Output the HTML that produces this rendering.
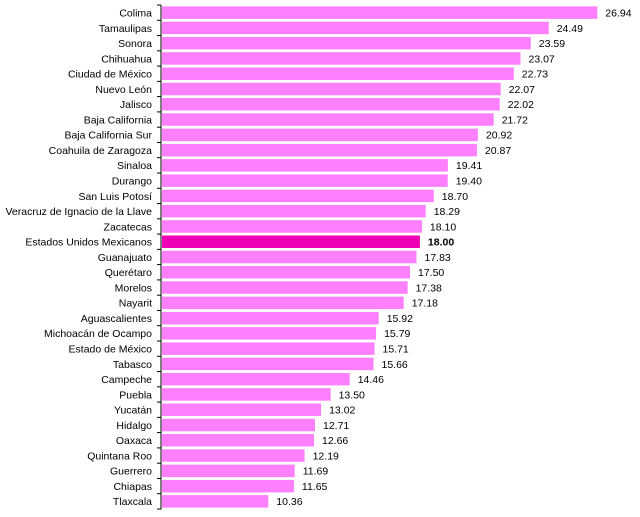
<!DOCTYPE html>
<html><head><meta charset="utf-8"><style>
html,body{margin:0;padding:0;background:#fff;width:640px;height:517px;overflow:hidden}
text{font-family:"Liberation Sans",Arial,sans-serif;font-size:10.5px;fill:#000}
</style></head><body>
<svg id="s" width="640" height="517" xmlns="http://www.w3.org/2000/svg"></svg>
<script>
var d=[["Colima",26.94],["Tamaulipas",24.49],["Sonora",23.59],["Chihuahua",23.07],["Ciudad de México",22.73],["Nuevo León",22.07],["Jalisco",22.02],["Baja California",21.72],["Baja California Sur",20.92],["Coahuila de Zaragoza",20.87],["Sinaloa",19.41],["Durango",19.40],["San Luis Potosí",18.70],["Veracruz de Ignacio de la Llave",18.29],["Zacatecas",18.10],["Estados Unidos Mexicanos",18.00],["Guanajuato",17.83],["Querétaro",17.50],["Morelos",17.38],["Nayarit",17.18],["Aguascalientes",15.92],["Michoacán de Ocampo",15.79],["Estado de México",15.71],["Tabasco",15.66],["Campeche",14.46],["Puebla",13.50],["Yucatán",13.02],["Hidalgo",12.71],["Oaxaca",12.66],["Quintana Roo",12.19],["Guerrero",11.69],["Chiapas",11.65],["Tlaxcala",10.36]];
var h='',p=(509-5)/33;
d.forEach(function(r,i){var y=5+i*p,w=(r[1]-5)*19.84,hl=r[0]=="Estados Unidos Mexicanos";
h+='<rect x="162" y="'+(y+1.4).toFixed(1)+'" width="'+w.toFixed(1)+'" height="12.5" fill="'+(hl?'#F000B4':'#FF80FF')+'"/>';
h+='<text x="152" y="'+(y+11.5).toFixed(1)+'" text-anchor="end">'+r[0]+'</text>';
h+='<text x="'+(162+w+8).toFixed(1)+'" y="'+(y+11.5).toFixed(1)+'"'+(hl?' font-weight="bold"':'')+'>'+r[1].toFixed(2)+'</text>';
h+='<line x1="157" x2="161" y1="'+y.toFixed(1)+'" y2="'+y.toFixed(1)+'" stroke="#000"/>';});
h+='<line x1="157" x2="161" y1="509" y2="509" stroke="#000"/><line x1="161" x2="161" y1="5" y2="509.5" stroke="#000"/>';
document.getElementById('s').innerHTML=h;
</script>
</body></html>
